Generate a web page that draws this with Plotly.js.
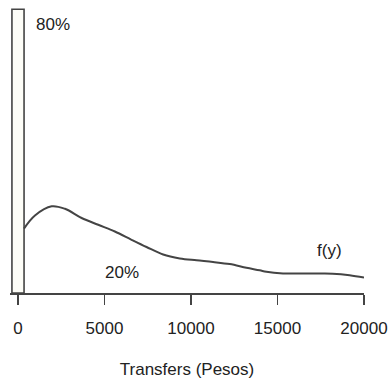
<!DOCTYPE html>
<html>
<head>
<meta charset="utf-8">
<script src="https://cdn.plot.ly/plotly-3.0.1.min.js"></script>
<style>html,body{margin:0;padding:0;background:#fff}#chart{width:391px;height:379px}</style>
</head>
<body>
<div id="chart"></div>
<script>
// Point mass at zero transfers (80%) drawn as a bar
var massX = [0];
var massHeight = [283.7];
var massLabel = "80%";

// Density f(y) of positive transfers (20%)
var densX = [346, 981, 1946, 2714, 3678, 4636, 5600, 6565, 7430, 8390, 9353, 10318, 11276, 12240, 13205, 13972, 14360, 15318, 16282, 17246, 18187, 19169, 20000];
var densY = [64.4, 77.5, 86.7, 84.2, 75, 68.2, 61.5, 53.2, 46, 38.5, 34.6, 32.7, 31, 28.9, 25.2, 22.7, 21.2, 19.6, 19.4, 19.4, 19.3, 17.8, 15.4];
var densLabel = "20%";
var curveLabel = "f(y)";

var tickVals = [0, 5000, 10000, 15000, 20000];
var tickText = ["0", "5000", "10000", "15000", "20000"];
var xTitle = "Transfers (Pesos)";

var ink = "#444";
var txt = "#222";
var fontFam = "Liberation Sans, Arial, Helvetica, sans-serif";

var traces = [
  {
    type: "bar", x: massX, y: massHeight, width: [700],
    marker: {color: "#fdfdf7", line: {color: ink, width: 1.6}},
    hoverinfo: "skip", cliponaxis: false
  },
  {
    type: "scatter", mode: "lines", x: densX, y: densY,
    line: {color: ink, width: 2, shape: "spline", smoothing: 1},
    hoverinfo: "skip", cliponaxis: false
  }
];

var layout = {
  width: 391, height: 379,
  margin: {l: 10, r: 27, t: 3, b: 86},
  paper_bgcolor: "#fff", plot_bgcolor: "#fff",
  showlegend: false,
  font: {family: fontFam, size: 17, color: txt},
  xaxis: {
    range: [-462, 20000],
    showgrid: false, zeroline: false,
    showline: true, linecolor: ink, linewidth: 1.5,
    ticks: "outside", ticklen: 10, tickwidth: 1.5, tickcolor: ink,
    tickvals: tickVals, ticktext: tickText,
    tickfont: {size: 17, color: txt, family: fontFam},
    ticklabelstandoff: 9,
    title: {text: xTitle, font: {size: 17, color: txt, family: fontFam}, standoff: 30}
  },
  yaxis: {
    range: [0, 290],
    visible: false, showgrid: false, zeroline: false
  },
  annotations: [
    {x: 2020, y: 268.7, xref: "x", yref: "y", text: massLabel, showarrow: false, font: {size: 17, color: txt}},
    {x: 6005, y: 20.7, xref: "x", yref: "y", text: densLabel, showarrow: false, font: {size: 17, color: txt}},
    {x: 18014, y: 42.7, xref: "x", yref: "y", text: curveLabel, showarrow: false, font: {size: 17, color: txt}}
  ]
};

Plotly.newPlot("chart", traces, layout, {displayModeBar: false, staticPlot: true});
</script>
</body>
</html>
